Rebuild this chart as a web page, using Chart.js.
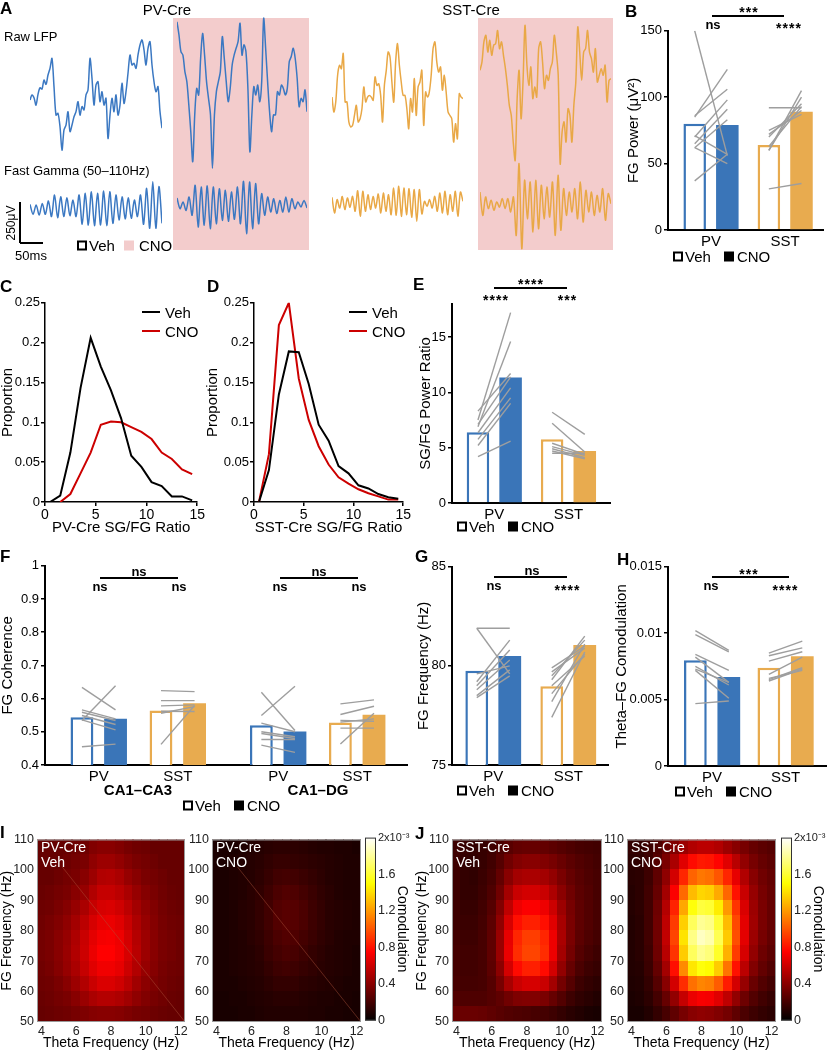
<!DOCTYPE html>
<html>
<head>
<meta charset="utf-8">
<script src="https://cdn.jsdelivr.net/npm/chart.js@4.4.1/dist/chart.umd.min.js"></script>
<style>
  body { margin: 0; background: #fff; }
  #fig { position: relative; width: 827px; height: 1050px; overflow: hidden; background: #fff;
         font-family: 'Liberation Sans', Arial, Helvetica, sans-serif; color: #000; }
  #fig canvas { position: absolute; }
  .t { position: absolute; white-space: nowrap; line-height: 1; z-index: 3; }
  .rule { position: absolute; background: #000; z-index: 3; }
  .pink { position: absolute; background: #f3cccc; }
  .leg { position: absolute; display: flex; align-items: center; font-size: 15px; line-height: 1; z-index: 3; transform: translateY(-50%); }
  .leg .open { width: 6px; height: 6px; border: 2px solid #000; background: #fff; margin-right: 2px; }
  .leg .full { width: 10px; height: 10px; background: #000; margin-right: 3px; }
</style>
</head>
<body>
<div id="fig"></div>
<script>
// ---- A: example traces (uV, evenly sampled) ----
const pvVehRaw = [0,27,12,-27,30,65,58,106,83,133,168,221,71,-80,-71,-142,-266,-159,-133,-62,-168,-133,-89,-62,-9,-80,-35,-53,27,53,221,115,-27,80,97,-9,44,-27,9,-204,-80,9,-62,27,-80,-27,89,-18,44,142,239,186,195,168,239,292,319,266,186,274,310,186,97,44,71,-62,-150];
const pvCnoRaw = [389,319,230,212,124,71,-53,-195,-354,-106,35,0,195,327,212,71,-18,-106,-389,-106,18,71,124,310,195,71,-35,35,159,212,248,283,381,212,266,230,35,-301,-106,44,0,53,-35,71,407,248,71,-89,-195,-106,-106,18,0,53,35,0,35,177,204,248,195,89,-62,-18,-35,27,-89];
const pvVehFg = [30,-23,27,-27,35,-23,48,-35,80,-41,71,-35,65,-30,53,-35,80,-76,89,-80,97,-83,89,-80,101,-83,97,-71,80,-53,71,-48,65,-44,53,-35,80,-76,115,-97,150,-97,124,-71];
const pvCnoFg = [48,-9,27,-18,53,-44,115,-106,106,-97,112,-115,106,-89,97,-71,89,-76,80,-65,106,-89,136,-142,133,-115,124,-89,71,-44,53,-27,44,-35,35,-27,53,-27,44,-9,27,0,35,-5];
const sstVehRaw = [-27,-106,-53,89,142,124,204,-53,-53,-159,-186,-177,-124,-71,-159,-142,-89,27,-53,-27,-18,-27,-44,80,35,44,-18,-159,35,115,212,186,53,-53,159,257,142,53,-18,-18,-89,-195,-35,-106,71,-124,27,53,115,-177,0,-27,0,89,230,266,159,106,133,9,89,0,-106,-124,-142,-266,-168,-248,-9,-27,-35];
const sstCnoRaw = [115,159,266,301,212,274,195,248,257,327,230,266,195,124,35,-71,-124,-266,-363,-35,115,-142,53,354,142,35,133,-35,27,-27,230,266,159,18,89,62,124,159,301,212,89,-381,-212,-159,-266,-89,-124,-266,-71,53,345,212,62,212,230,327,212,177,106,230,53,89,124,89,142,-53,62,71];
const sstVehFg = [30,-53,18,-27,35,-35,27,-23,35,-44,65,-71,62,-44,44,-35,35,-27,48,-53,53,-44,44,-62,80,-65,89,-71,80,-62,76,-76,71,-97,71,-58,9,-18,18,-27,35,-44,53,-53,62,-62,44,-44,62,-71,58,9];
const sstCnoFg = [53,-71,27,-35,9,-44,0,-27,18,-35,18,-53,27,-177,204,-248,115,-89,106,-159,115,-142,89,-89,80,-80,106,-177,142,-150,71,-71,53,-53,71,-89,106,-106,62,-53,53,-71,35,-53,71,-97,44,-9];

// ---- B: FG power ----
const groups = ['PV', 'SST'];
const powerVeh = [80, 64];
const powerCno = [79, 89];
const powerPairs = [
  [[150,56],[85,121],[86,106],[70,98],[65,91],[62,83],[71,57],[62,50],[37,57]],
  [[31,35],[92,92],[60,105],[60,100],[70,95],[72,90],[75,87],[63,93]]
];
const powerTicks = [0, 50, 100, 150];

// ---- C, D: SG/FG ratio distributions ----
const ratioBins = [0.5,1.5,2.5,3.5,4.5,5.5,6.5,7.5,8.5,9.5,10.5,11.5,12.5,13.5,14.5];
const pvRatioVeh = [0,0.008,0.062,0.143,0.206,0.17,0.14,0.105,0.058,0.044,0.025,0.02,0.007,0.007,0.002];
const pvRatioCno = [null,0,0.01,0.036,0.062,0.097,0.101,0.1,0.094,0.088,0.079,0.062,0.054,0.041,0.035];
const sstRatioVeh = [0,0.04,0.135,0.189,0.188,0.148,0.097,0.077,0.045,0.036,0.021,0.017,0.01,0.006,0.004];
const sstRatioCno = [0,0.06,0.222,0.25,0.155,0.103,0.07,0.047,0.031,0.023,0.016,0.011,0.007,0.003,0.003];
const propTicks = [0, 0.05, 0.1, 0.15, 0.2, 0.25];
const ratioTicks = [0, 5, 10, 15];

// ---- E: SG/FG power ratio ----
const sgfgVeh = [6.4, 5.76];
const sgfgCno = [11.33, 4.71];
const sgfgPairs = [
  [[7.5,17.2],[6.9,14.6],[8.3,11.7],[7.1,11.4],[6.35,10.4],[5.75,9.5],[5.2,9.0],[4.2,5.6]],
  [[8.2,6.2],[7.2,4.6],[5.4,4.4],[5.1,4.3],[4.9,4.1],[4.7,4.0],[4.5,4.5]]
];
const sgfgTicks = [0, 5, 10, 15];

// ---- F: FG coherence ----
const cohGroups = ['PV', 'SST', 'PV', 'SST'];
const cohRegions = ['CA1–CA3', 'CA1–DG'];
const cohVeh = [0.544, 0.564, 0.520, 0.528];
const cohCno = [0.539, 0.586, 0.501, 0.551];
const cohPairs = [
  [[0.634,0.566],[0.534,0.639],[0.566,0.539],[0.559,0.534],[0.549,0.522],[0.536,0.506],[0.455,0.463]],
  [[0.624,0.621],[0.594,0.594],[0.578,0.581],[0.556,0.576],[0.462,0.579],[0.562,0.561]],
  [[0.619,0.504],[0.549,0.637],[0.526,0.5],[0.5,0.485],[0.495,0.48],[0.477,0.477],[0.46,0.438]],
  [[0.584,0.596],[0.552,0.577],[0.534,0.532],[0.529,0.539],[0.511,0.511],[0.463,0.556]]
];
const cohTicks = [0.4, 0.5, 0.6, 0.7, 0.8, 0.9, 1];

// ---- G: FG frequency ----
const freqVeh = [79.75, 78.97];
const freqCno = [80.5, 81.05];
const freqPairs = [
  [[81.9,81.9],[81.9,79.6],[79.2,81.3],[79.0,80.8],[78.8,80.3],[78.5,79.8],[78.4,79.5],[79.6,80.0]],
  [[77.4,80.7],[78.2,81.1],[78.6,80.6],[79.3,81.5],[79.5,81.3],[79.7,80.9],[79.9,81.0],[79.0,80.5]]
];
const freqTicks = [75, 80, 85];

// ---- H: theta-FG comodulation ----
const comodVeh = [0.00797, 0.0074];
const comodCno = [0.0067, 0.00827];
const comodPairs = [
  [[0.0102,0.0087],[0.0099,0.0086],[0.0084,0.0072],[0.0082,0.0063],[0.0075,0.0061],[0.0073,0.0063],[0.0072,0.0051],[0.0047,0.0049]],
  [[0.0085,0.0094],[0.0083,0.0089],[0.0079,0.0086],[0.0069,0.0082],[0.0065,0.0074],[0.0064,0.0073],[0.0066,0.0072]]
];
const comodTicks = [0, 0.005, 0.01, 0.015];

// ---- I, J: comodulograms (x1e-4), rows from 105-110 Hz down to 50-55 Hz ----
const thetaBins = [4,4.5,5,5.5,6,6.5,7,7.5,8,8.5,9,9.5,10,10.5,11,11.5,12];
const fgBins = [107.5,102.5,97.5,92.5,87.5,82.5,77.5,72.5,67.5,62.5,57.5,52.5];
const thetaTicks = [4, 6, 8, 10, 12];
const fgTicks = [50, 60, 70, 80, 90, 100, 110];
const cbarTicks = [0, 0.4, 0.8, 1.2, 1.6, 2];
const pvVehMap = [
  [3,3,3,3,3.2,3.3,3.8,4,4,3.8,3.5,3.3,3.2,3,3,3,3],
  [3,3,3,3.2,3.4,3.6,4.2,4.6,4.6,4.3,3.9,3.6,3.4,3.2,3,3,3],
  [3,3,3.2,3.4,3.6,4,4.6,5.2,5.3,5,4.4,4,3.6,3.4,3.2,3,3],
  [3.1,3.2,3.4,3.6,4,4.4,5.2,5.8,5.8,5.5,5,4.4,3.9,3.6,3.3,3.1,3],
  [3.2,3.3,3.6,3.9,4.4,5,5.8,6.3,6.4,6.1,5.5,4.8,4.2,3.8,3.4,3.2,3.1],
  [3.3,3.5,3.8,4.2,4.8,5.5,6.3,6.8,6.9,6.6,5.9,5.1,4.4,3.9,3.5,3.3,3.2],
  [3.4,3.6,4,4.4,5.1,5.9,6.7,7.2,7.3,7,6.2,5.3,4.6,4,3.6,3.4,3.2],
  [3.4,3.6,4,4.5,5.2,6,6.9,7.5,7.5,7.1,6.3,5.4,4.6,4,3.6,3.4,3.2],
  [3.3,3.5,3.9,4.4,5,5.8,6.6,7.1,7.1,6.8,6,5.2,4.4,3.9,3.5,3.3,3.2],
  [3.2,3.3,3.6,4,4.6,5.2,5.9,6.4,6.4,6.1,5.5,4.7,4.1,3.7,3.4,3.2,3.1],
  [3.1,3.2,3.4,3.6,4,4.5,5,5.3,5.3,5.1,4.7,4.2,3.8,3.5,3.3,3.1,3],
  [3,3.1,3.2,3.3,3.5,3.7,3.9,4,4,3.9,3.7,3.5,3.4,3.2,3.1,3,3]
];
const pvCnoMap = [
  [0.8,0.8,0.8,0.9,1,1.1,1.2,1.3,1.3,1.3,1.2,1.1,1,1,0.9,0.9,0.8],
  [0.8,0.8,0.9,1,1.1,1.2,1.4,1.6,1.6,1.5,1.4,1.3,1.2,1.1,1,0.9,0.9],
  [0.8,0.8,0.9,1,1.1,1.3,1.6,1.9,2,1.9,1.7,1.5,1.3,1.1,1,0.9,0.9],
  [0.8,0.8,0.9,1,1.2,1.4,1.8,2.2,2.4,2.3,2,1.7,1.4,1.2,1,0.9,0.9],
  [0.8,0.8,0.9,1.1,1.2,1.5,1.9,2.4,2.6,2.5,2.2,1.8,1.5,1.2,1.1,1,0.9],
  [0.8,0.8,0.9,1.1,1.2,1.5,1.9,2.4,2.6,2.5,2.2,1.8,1.5,1.2,1.1,1,0.9],
  [0.8,0.8,0.9,1,1.2,1.4,1.8,2.2,2.4,2.3,2,1.7,1.4,1.2,1,0.9,0.9],
  [0.8,0.8,0.9,1,1.1,1.3,1.7,2,2.2,2.1,1.8,1.5,1.3,1.1,1,0.9,0.8],
  [0.8,0.8,0.9,1,1.1,1.2,1.5,1.8,1.9,1.8,1.6,1.4,1.2,1.1,1,0.9,0.8],
  [0.8,0.8,0.8,0.9,1,1.1,1.3,1.5,1.5,1.5,1.3,1.2,1.1,1,0.9,0.8,0.8],
  [0.7,0.7,0.8,0.8,0.9,1,1.1,1.2,1.2,1.2,1.1,1,0.9,0.9,0.8,0.8,0.7],
  [0.7,0.7,0.7,0.8,0.8,0.9,1,1,1,1,1,0.9,0.9,0.8,0.8,0.7,0.7]
];
const sstVehMap = [
  [1.8,1.6,1.5,1.6,1.8,2.2,2.6,2.9,3,3,2.9,2.7,2.5,2.3,2.1,2,1.9],
  [1.8,1.5,1.4,1.6,1.9,2.5,3.3,3.8,4,4,3.8,3.5,3.1,2.7,2.4,2.2,2],
  [1.8,1.5,1.4,1.7,2.1,2.9,4,4.8,5,5,4.8,4.3,3.6,3,2.6,2.3,2.1],
  [1.8,1.5,1.5,1.8,2.3,3.3,4.8,5.9,6.2,6.2,5.9,5.1,4.1,3.3,2.7,2.4,2.1],
  [1.8,1.6,1.6,1.9,2.5,3.8,5.6,7,7.4,7.4,7,6,4.6,3.5,2.8,2.4,2.1],
  [1.8,1.7,1.7,2,2.7,4.2,6.3,7.9,8.4,8.4,7.9,6.6,4.9,3.6,2.8,2.4,2.1],
  [1.9,1.8,1.8,2.1,2.8,4.5,6.8,8.6,9.3,9.3,8.6,7,5,3.6,2.7,2.3,2],
  [2,1.9,1.9,2.1,2.8,4.5,6.9,8.8,9.5,9.5,8.8,7,4.8,3.4,2.5,2.1,1.8],
  [2,1.9,1.9,2.1,2.7,4.1,6.2,7.8,8.4,8.4,7.8,6.2,4.3,3,2.2,1.8,1.6],
  [2.1,2,2,2.1,2.5,3.5,4.9,5.9,6.3,6.3,5.9,4.8,3.4,2.5,1.8,1.5,1.3],
  [2.4,2.3,2.3,2.3,2.5,2.8,3.3,3.7,3.8,3.8,3.6,3,2.4,1.8,1.4,1.2,1],
  [3,3.1,3.1,3,2.8,2.6,2.4,2.3,2.2,2.1,2,1.8,1.5,1.2,1,0.8,0.7]
];
const sstCnoMap = [
  [1.5,1.5,1.8,2.3,3,3.8,4.6,5.2,5.5,5.5,5.2,4.6,4,3.5,3,2.7,2.5],
  [1.3,1.4,1.8,2.5,3.6,5,6.6,7.8,8.2,8.1,7.6,6.6,5.4,4.3,3.5,3,2.7],
  [1.2,1.3,1.8,2.8,4.2,6.2,8.6,10.4,11,10.8,10,8.6,6.8,5.2,4,3.3,2.9],
  [1.1,1.3,1.9,3,4.8,7.4,10.6,13,13.8,13.6,12.5,10.5,8,5.9,4.4,3.5,3],
  [1.1,1.3,1.9,3.2,5.3,8.5,12.4,15.2,16.2,16,14.5,12,9,6.4,4.6,3.6,3],
  [1,1.2,1.9,3.3,5.6,9.2,13.6,16.8,17.9,17.6,16,13,9.6,6.7,4.7,3.6,3],
  [1,1.2,1.9,3.3,5.7,9.5,14.2,17.6,18.8,18.4,16.6,13.4,9.8,6.7,4.6,3.5,2.9],
  [1,1.2,1.8,3.2,5.4,9,13.5,16.8,17.8,17.4,15.8,12.7,9.2,6.3,4.3,3.2,2.7],
  [1,1.1,1.7,2.9,4.8,7.9,11.6,14.3,15.2,14.9,13.5,10.9,8,5.5,3.8,2.9,2.4],
  [0.9,1,1.5,2.5,4,6.2,8.8,10.8,11.4,11.2,10.2,8.3,6.2,4.4,3.1,2.4,2],
  [0.8,0.9,1.3,2,3,4.3,5.8,6.9,7.3,7.2,6.6,5.6,4.3,3.2,2.4,1.9,1.6],
  [0.7,0.7,1,1.5,2.1,2.8,3.5,4,4.2,4.1,3.8,3.4,2.8,2.2,1.8,1.5,1.3]
];
const mapMax = 20;

// ---- look ----
const BLUE = '#3a75b8', ORANGE = '#e8ab4f';
const TRACE_BLUE = '#3b78c2', TRACE_ORANGE = '#e9a846';
const uvPerPx = 5.31;

Chart.defaults.font.family = "'Liberation Sans', Arial, Helvetica, sans-serif";
Chart.defaults.color = '#000';
Chart.defaults.animation = false;
Chart.defaults.responsive = false;
Chart.defaults.events = [];
Chart.defaults.plugins.legend.display = false;
Chart.defaults.plugins.tooltip.enabled = false;

const fig = document.getElementById('fig');

function canvasAt(l, t, r, b) {
  l = Math.round(l); t = Math.round(t); r = Math.round(r); b = Math.round(b);
  const c = document.createElement('canvas');
  c.width = r - l; c.height = b - t;
  c.style.left = l + 'px'; c.style.top = t + 'px';
  fig.appendChild(c);
  return c;
}

function text(str, x, y, o = {}) {
  const d = document.createElement('div');
  d.className = 't';
  d.textContent = str;
  d.style.left = x + 'px';
  d.style.top = y + 'px';
  d.style.fontSize = (o.size || 15) + 'px';
  if (o.bold) d.style.fontWeight = 'bold';
  if (o.color) d.style.color = o.color;
  if (o.ls) d.style.letterSpacing = o.ls + 'px';
  const ax = o.align === 'left' ? '0' : '-50%';
  d.style.transform = `translate(${ax},-50%)` + (o.rot ? ` rotate(${o.rot}deg)` : '');
  fig.appendChild(d);
}

function rule(x0, y0, x1, y1, w = 1.5, color = '#000') {
  const d = document.createElement('div');
  d.className = 'rule';
  d.style.background = color;
  if (y0 === y1) {
    d.style.left = x0 + 'px'; d.style.top = (y0 - w / 2) + 'px';
    d.style.width = (x1 - x0) + 'px'; d.style.height = w + 'px';
  } else {
    d.style.left = (x0 - w / 2) + 'px'; d.style.top = y0 + 'px';
    d.style.width = w + 'px'; d.style.height = (y1 - y0) + 'px';
  }
  fig.appendChild(d);
}

function box(l, t, r, b, cls) {
  const d = document.createElement('div');
  d.className = cls;
  d.style.left = l + 'px'; d.style.top = t + 'px';
  d.style.width = (r - l) + 'px'; d.style.height = (b - t) + 'px';
  fig.appendChild(d);
}

function legend(x, y, pink) {
  const d = document.createElement('div');
  d.className = 'leg';
  d.style.left = x + 'px'; d.style.top = y + 'px';
  const second = pink
    ? '<span style="width:10px;height:10px;background:#f3cccc;margin-right:5px"></span>'
    : '<span class="full"></span>';
  d.innerHTML = '<span class="open"></span><span>Veh</span><span style="width:' + (pink ? 9 : 13) + 'px"></span>' + second + '<span>CNO</span>';
  fig.appendChild(d);
}

function hot(t) {
  t = Math.max(0, Math.min(1, t));
  const r = Math.min(1, t / 0.375);
  const g = Math.max(0, Math.min(1, (t - 0.375) / 0.375));
  const b = Math.max(0, (t - 0.75) / 0.25);
  return `rgb(${Math.round(r * 255)},${Math.round(g * 255)},${Math.round(b * 255)})`;
}

// ---------- A ----------
function trace(vals, color, l, r, mid, half) {
  const cv = canvasAt(l, mid - half, r, mid + half);
  new Chart(cv, {
    type: 'line',
    data: {
      labels: vals.map((_, i) => i),
      datasets: [{ data: vals, borderColor: color, borderWidth: 1.5, pointRadius: 0, tension: 0.3 }]
    },
    options: {
      scales: {
        x: { display: false },
        y: { display: false, min: -half * uvPerPx, max: half * uvPerPx }
      }
    }
  });
}

box(173, 18, 309, 250, 'pink');
box(478, 18, 613, 250, 'pink');
trace(pvVehRaw, TRACE_BLUE, 30, 162, 100, 80);
trace(pvCnoRaw, TRACE_BLUE, 177, 307, 95, 80);
trace(pvVehFg, TRACE_BLUE, 30, 162, 210, 40);
trace(pvCnoFg, TRACE_BLUE, 177, 307, 207, 40);
trace(sstVehRaw, TRACE_ORANGE, 332, 463, 92, 80);
trace(sstCnoRaw, TRACE_ORANGE, 480, 611, 92, 80);
trace(sstVehFg, TRACE_ORANGE, 332, 463, 203, 40);
trace(sstCnoFg, TRACE_ORANGE, 480, 611, 202, 56);

text('PV-Cre', 167, 9, { size: 15 });
text('SST-Cre', 471, 9, { size: 15 });
text('Raw LFP', 4, 36, { size: 13, align: 'left' });
text('Fast Gamma (50–110Hz)', 4, 170, { size: 13, align: 'left' });
rule(20, 202, 20, 243, 1.5);
rule(20, 243, 43, 243, 1.5);
text('250μV', 11, 223, { size: 12, rot: -90 });
text('50ms', 31, 255, { size: 13 });
legend(77, 245, true);

// ---------- bar panels ----------
function barPanel(o) {
  const left = Math.max(0, Math.round(o.titleX - 7.5));
  const yW = o.l - left;
  const cv = canvasAt(left, o.t - 8, o.r + 4, o.b + 24);
  const cp = o.cp || 0.88, bp = o.bp || 0.69;
  const dx = cp / 4;
  const datasets = [
    { type: 'bar', label: 'Veh', data: o.slots.map((s, i) => ({ x: s, y: o.veh[i] })),
      backgroundColor: '#fff', borderColor: o.colors, borderWidth: 2.5,
      categoryPercentage: cp, barPercentage: bp, order: 1 },
    { type: 'bar', label: 'CNO', data: o.slots.map((s, i) => ({ x: s, y: o.cno[i] })),
      backgroundColor: o.colors, borderWidth: 0,
      categoryPercentage: cp, barPercentage: bp, order: 1 }
  ];
  o.pairs.forEach((grp, gi) => grp.forEach(p => datasets.push({
    type: 'line', data: [{ x: o.slots[gi] - dx, y: p[0] }, { x: o.slots[gi] + dx, y: p[1] }],
    borderColor: '#9e9e9e', borderWidth: 1.4, pointRadius: 0, order: 0
  })));
  new Chart(cv, {
    type: 'bar',
    data: { datasets },
    options: {
      layout: { padding: { top: 8, right: 4 } },
      scales: {
        x: {
          type: 'linear', min: o.xmin, max: o.xmax, offset: false, z: 1,
          afterBuildTicks: s => { s.ticks = o.slots.map(v => ({ value: v })); },
          afterFit: s => { s.height = 24; },
          ticks: { callback: v => o.labels[o.slots.indexOf(v)], font: { size: 15 }, padding: 3, maxRotation: 0, autoSkip: false },
          grid: { display: false, drawTicks: false, offset: false },
          border: { color: '#000', width: 2 }
        },
        y: {
          min: o.min, max: o.max,
          afterBuildTicks: s => { s.ticks = o.ticks.map(v => ({ value: v })); },
          afterFit: s => { s.width = yW; },
          ticks: { callback: v => String(v), font: { size: 13 }, padding: 2 },
          grid: { drawOnChartArea: false, tickLength: 4, color: '#000', lineWidth: 1.5 },
          border: { color: '#000', width: 2 },
          title: { display: true, text: o.title, font: { size: 15, lineHeight: 1 }, padding: 0 }
        }
      }
    }
  });
}

const pairColors = [BLUE, ORANGE];

barPanel({ l: 668, t: 29, r: 823, b: 230, titleX: 633, xmin: -0.58, xmax: 1.51,
  min: 0, max: 150, ticks: powerTicks, title: 'FG Power (μV²)', slots: [0, 1], labels: groups,
  veh: powerVeh, cno: powerCno, pairs: powerPairs, colors: pairColors });

barPanel({ l: 452, t: 302, r: 610, b: 503, titleX: 425, xmin: -0.57, xmax: 1.56,
  min: 0, max: 18, ticks: sgfgTicks, title: 'SG/FG Power Ratio', slots: [0, 1], labels: groups,
  veh: sgfgVeh, cno: sgfgCno, pairs: sgfgPairs, colors: pairColors });

barPanel({ l: 45, t: 564, r: 407, b: 765, titleX: 7, xmin: -0.68, xmax: 3.9, cp: 0.85, bp: 0.68,
  min: 0.4, max: 1, ticks: cohTicks, title: 'FG Coherence', slots: [0, 1, 2.27, 3.27], labels: cohGroups,
  veh: cohVeh, cno: cohCno, pairs: cohPairs, colors: [BLUE, ORANGE, BLUE, ORANGE] });

barPanel({ l: 452, t: 565, r: 608, b: 765, titleX: 423, xmin: -0.55, xmax: 1.53,
  min: 75, max: 85, ticks: freqTicks, title: 'FG Frequency (Hz)', slots: [0, 1], labels: groups,
  veh: freqVeh, cno: freqCno, pairs: freqPairs, colors: pairColors });

barPanel({ l: 668, t: 565, r: 826, b: 766, titleX: 621, xmin: -0.6, xmax: 1.55, cp: 0.91, bp: 0.68,
  min: 0, max: 0.015, ticks: comodTicks, title: 'Theta–FG Comodulation', slots: [0, 1], labels: groups,
  veh: comodVeh, cno: comodCno, pairs: comodPairs, colors: pairColors });

// ---------- C, D ----------
function distPanel(o) {
  const left = Math.max(0, Math.round(o.titleX - 7.5));
  const bottom = Math.round(o.xTitleY + 7.5);
  const cv = canvasAt(left, o.t - 8, o.r + 8, bottom);
  new Chart(cv, {
    type: 'line',
    data: {
      datasets: [
        { data: ratioBins.map((x, i) => ({ x, y: o.veh[i] })), borderColor: '#000', borderWidth: 2, pointRadius: 0 },
        { data: ratioBins.map((x, i) => ({ x, y: o.cno[i] })), borderColor: '#cc0000', borderWidth: 2, pointRadius: 0 }
      ]
    },
    options: {
      layout: { padding: { top: 8, right: 8 } },
      scales: {
        x: {
          type: 'linear', min: 0, max: 15,
          afterBuildTicks: s => { s.ticks = ratioTicks.map(v => ({ value: v })); },
          afterFit: s => { s.height = bottom - o.b; },
          ticks: { font: { size: 14 }, padding: 1, maxRotation: 0 },
          grid: { drawOnChartArea: false, tickLength: 4, color: '#000', lineWidth: 1.5 },
          border: { color: '#000', width: 1.5 },
          title: { display: true, text: o.xTitle, font: { size: 15, lineHeight: 1 }, padding: 0 }
        },
        y: {
          min: 0, max: 0.25,
          afterBuildTicks: s => { s.ticks = propTicks.map(v => ({ value: v })); },
          afterFit: s => { s.width = o.l - left; },
          ticks: { callback: v => String(v), font: { size: 13 }, padding: 1 },
          grid: { drawOnChartArea: false, tickLength: 4, color: '#000', lineWidth: 1.5 },
          border: { color: '#000', width: 1.5 },
          title: { display: true, text: 'Proportion', font: { size: 15, lineHeight: 1 }, padding: 0 }
        }
      }
    }
  });
  rule(o.legX, o.t + 10, o.legX + 18, o.t + 10, 2, '#000');
  rule(o.legX, o.t + 29, o.legX + 18, o.t + 29, 2, '#cc0000');
  text('Veh', o.legX + 23, o.t + 10, { align: 'left' });
  text('CNO', o.legX + 23, o.t + 29, { align: 'left' });
}

distPanel({ l: 45, t: 302, r: 198, b: 502, titleX: 7, xTitleY: 527, veh: pvRatioVeh, cno: pvRatioCno,
  xTitle: 'PV-Cre SG/FG Ratio', legX: 142 });
distPanel({ l: 254, t: 302, r: 404, b: 502, titleX: 212, xTitleY: 527, veh: sstRatioVeh, cno: sstRatioCno,
  xTitle: 'SST-Cre SG/FG Ratio', legX: 349 });

// ---------- I, J ----------
const heatPlugin = {
  id: 'heat',
  beforeDatasetsDraw(chart, args, opts) {
    const { ctx, chartArea: a, scales } = chart;
    ctx.save();
    ctx.beginPath(); ctx.rect(a.left, a.top, a.width, a.height); ctx.clip();
    if (opts.map) {
      const x = scales.x, y = scales.y;
      opts.map.forEach((row, r) => row.forEach((v, c) => {
        const x0 = x.getPixelForValue(thetaBins[c] - 0.25), x1 = x.getPixelForValue(thetaBins[c] + 0.25);
        const y0 = y.getPixelForValue(fgBins[r] + 2.5), y1 = y.getPixelForValue(fgBins[r] - 2.5);
        ctx.fillStyle = hot(v / mapMax);
        ctx.fillRect(Math.floor(x0), Math.floor(y0), Math.ceil(x1 - x0) + 1, Math.ceil(y1 - y0) + 1);
      }));
    }
    if (opts.bar) {
      const y = scales.y;
      for (let py = Math.floor(a.top); py < a.bottom; py++) {
        ctx.fillStyle = hot(y.getValueForPixel(py + 0.5) / y.max);
        ctx.fillRect(a.left, py, a.width, 1);
      }
    }
    ctx.restore();
  },
  afterDatasetsDraw(chart, args, opts) {
    const { ctx, chartArea: a } = chart;
    ctx.save();
    ctx.strokeStyle = opts.bar ? '#333' : '#999';
    ctx.lineWidth = 1;
    ctx.strokeRect(a.left + 0.5, a.top + 0.5, a.width - 1, a.height - 1);
    ctx.restore();
  }
};

function heatPanel(o) {
  const left = o.yTitle ? Math.max(0, Math.round(o.titleX - 7)) : o.l - 30;
  const cv = canvasAt(left, 829, o.r + 6, 1050);
  const datasets = o.diag ? [{
    data: [{ x: 5.2, y: 101 }, { x: 12.25, y: 50 }], showLine: true,
    borderColor: 'rgba(175,85,60,0.45)', borderWidth: 1, pointRadius: 0
  }] : [];
  new Chart(cv, {
    type: 'scatter',
    data: { datasets },
    plugins: [heatPlugin],
    options: {
      layout: { padding: { top: 8, right: 6 } },
      plugins: { heat: { map: o.map } },
      scales: {
        x: {
          type: 'linear', min: 3.75, max: 12.25,
          afterBuildTicks: s => { s.ticks = thetaTicks.map(v => ({ value: v })); },
          afterFit: s => { s.height = 1050 - o.b; },
          ticks: { font: { size: 12.5 }, color: '#222', padding: 2, maxRotation: 0 },
          grid: { display: false, drawTicks: false }, border: { display: false },
          title: { display: true, text: 'Theta Frequency (Hz)', font: { size: 14, lineHeight: 1 }, padding: 0 }
        },
        y: {
          min: 50, max: 110,
          afterBuildTicks: s => { s.ticks = fgTicks.map(v => ({ value: v })); },
          afterFit: s => { s.width = o.l - left; },
          ticks: { font: { size: 12.5 }, color: '#222', padding: 3 },
          grid: { display: false, drawTicks: false }, border: { display: false },
          title: { display: !!o.yTitle, text: 'FG Frequency (Hz)', font: { size: 14, lineHeight: 1 }, padding: 0 }
        }
      }
    }
  });
  text(o.name, o.l + 4, 847, { size: 14, color: '#fff', align: 'left' });
  text(o.cond, o.l + 4, 862, { size: 14, color: '#fff', align: 'left' });
}

function colorbar(l, r, titleX) {
  const pad = 24;
  const right = Math.round(titleX + 7) + pad;
  const cv = canvasAt(l, 829, right, 1030);
  new Chart(cv, {
    type: 'scatter',
    data: { datasets: [] },
    plugins: [heatPlugin],
    options: {
      layout: { padding: { top: 8, bottom: 8 } },
      plugins: { heat: { bar: true } },
      scales: {
        x: { display: false, min: 0, max: 1 },
        y: {
          position: 'right', min: 0, max: 2,
          afterBuildTicks: s => { s.ticks = cbarTicks.map(v => ({ value: v })); },
          afterFit: s => { s.width = right - r; },
          ticks: {
            callback: v => (v === 2 ? '2x10⁻³' : String(v)),
            font: c => ({ size: c.tick && c.tick.value === 2 ? 11 : 12.5 }),
            color: '#222', padding: 2
          },
          grid: { display: false, drawTicks: false }, border: { display: false },
          title: { display: true, text: 'Comodulation', font: { size: 14, lineHeight: 1 }, padding: { top: pad, bottom: 0 } }
        }
      }
    }
  });
}

heatPanel({ l: 37, r: 185, b: 1022, yTitle: true, titleX: 7, map: pvVehMap, diag: true, name: 'PV-Cre', cond: 'Veh' });
heatPanel({ l: 212, r: 361, b: 1022, map: pvCnoMap, diag: true, name: 'PV-Cre', cond: 'CNO' });
heatPanel({ l: 452, r: 602, b: 1022, yTitle: true, titleX: 422, map: sstVehMap, name: 'SST-Cre', cond: 'Veh' });
heatPanel({ l: 627, r: 776, b: 1022, map: sstCnoMap, name: 'SST-Cre', cond: 'CNO' });
colorbar(365, 376, 402);
colorbar(781, 792, 818);

// ---------- letters, stats, legends ----------
[['A', 0, 8], ['B', 625, 11], ['C', 0, 286], ['D', 207, 286], ['E', 413, 284], ['F', 0, 556],
 ['G', 415, 556], ['H', 617, 559], ['I', 0, 832], ['J', 415, 833]]
  .forEach(([s, x, y]) => text(s, x, y, { size: 17, bold: true, align: 'left' }));

function stat(s, x, y) {
  const star = s.includes('*');
  text(s, x, star ? y + 3 : y - 1, { size: star ? 14 : 13, bold: true, ls: star ? 1 : 0 });
}
// B
rule(712, 16, 784, 16); stat('***', 749, 8.5); stat('ns', 713, 25); stat('****', 789, 24.5);
legend(673, 256);
// E
rule(494, 288, 567, 288); stat('****', 531, 281); stat('****', 496, 296.5); stat('***', 567.5, 296.5);
legend(457, 526);
// F
rule(100, 578, 178, 578); rule(280, 578, 358, 578);
stat('ns', 139, 571.5); stat('ns', 319, 571.5);
stat('ns', 100, 586.5); stat('ns', 179, 586.5); stat('ns', 280, 586.5); stat('ns', 359, 586.5);
text(cohRegions[0], 138, 789, { size: 15, bold: true });
text(cohRegions[1], 318, 789, { size: 15, bold: true });
legend(183, 805);
// G
rule(494, 577, 567, 577); stat('ns', 532, 570.5); stat('ns', 494, 586); stat('****', 567.5, 586.5);
legend(457, 790);
// H
rule(712, 577, 789, 577); stat('***', 749, 570.5); stat('ns', 711, 586); stat('****', 785.5, 586.5);
legend(675, 791);
</script>
</body>
</html>
